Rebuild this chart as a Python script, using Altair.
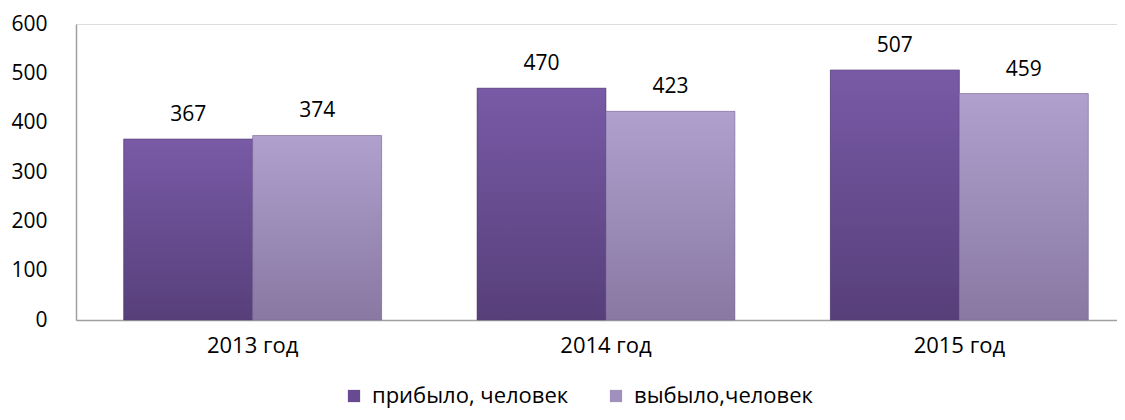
import altair as alt
import pandas as pd

years = ["2013 год", "2014 год", "2015 год"]
series = ["прибыло, человек", "выбыло,человек"]
arrived = [367, 470, 507]
departed = [374, 423, 459]

rows = []
for i, y in enumerate(years):
    rows.append({"year": y, "series": series[0], "value": arrived[i]})
    rows.append({"year": y, "series": series[1], "value": departed[i]})
df = pd.DataFrame(rows)

FONT = "Open Sans"
dark_solid = "#674a8f"
light_solid = "#a090bc"

xenc = alt.X("year:N", sort=years, title=None,
             scale=alt.Scale(range=[0, 1060], paddingInner=0.27, paddingOuter=0.135),
             axis=alt.Axis(labelAngle=0, ticks=False, tickSize=0, labelPadding=15,
                           domainColor="#a0a0a0", domainWidth=1.5, labelFontSize=22,
                           labelFont=FONT, labelColor="#000000"))
xoff = alt.XOffset("series:N", sort=series, scale=alt.Scale(paddingInner=0, paddingOuter=0))
yenc = alt.Y("value:Q", title=None,
             scale=alt.Scale(domain=[0, 600], nice=False),
             axis=alt.Axis(values=[0, 100, 200, 300, 400, 500, 600], grid=False,
                           ticks=False, tickSize=0, labelPadding=29,
                           domainColor="#a0a0a0", domainWidth=1.5, labelFontSize=21,
                           labelFont=FONT, labelColor="#000000"))

base = alt.Chart(df)

bars = base.mark_bar().encode(
    x=xenc, xOffset=xoff, y=yenc,
    color=alt.Color("series:N", sort=series,
                    scale=alt.Scale(domain=series, range=[dark_solid, light_solid]),
                    legend=alt.Legend(title=None, orient="none", legendX=267, legendY=361,
                                      direction="horizontal", symbolType="square",
                                      symbolSize=150, symbolStrokeWidth=0,
                                      labelFontSize=22, labelFont=FONT, labelColor="#000000",
                                      labelLimit=500, labelOffset=7, columnPadding=36,
                                      padding=0)),
)

def grad(top, bottom):
    return alt.Gradient(gradient="linear",
                        stops=[alt.GradientStop(color=top, offset=0),
                               alt.GradientStop(color=bottom, offset=1)],
                        x1=0, x2=0, y1=0, y2=1)

dark_bars = base.mark_bar(color=grad("#785aa6", "#573f7a"),
                          stroke="#50386e", strokeWidth=1, strokeOpacity=0.5).encode(
    x=xenc, xOffset=xoff, y=yenc
).transform_filter(alt.datum.series == series[0])

light_bars = base.mark_bar(color=grad("#b0a0ce", "#8878a2"),
                           stroke="#7a6a94", strokeWidth=1, strokeOpacity=0.5).encode(
    x=xenc, xOffset=xoff, y=yenc
).transform_filter(alt.datum.series == series[1])

labels = base.mark_text(baseline="alphabetic", dy=-18, fontSize=21, font=FONT,
                        color="#000000").encode(
    x=xenc, xOffset=xoff, y=yenc, text=alt.Text("value:Q")
)

chart = alt.layer(bars, dark_bars, light_bars, labels).properties(
    width=1041, height=296,
    autosize=alt.AutoSizeParams(type="none"),
    padding={"left": 68, "top": 16, "right": 0, "bottom": 92},
).configure_view(stroke=None).configure(background="#ffffff")

chart.save("out.html", embed_options={"renderer": "svg", "actions": False})
